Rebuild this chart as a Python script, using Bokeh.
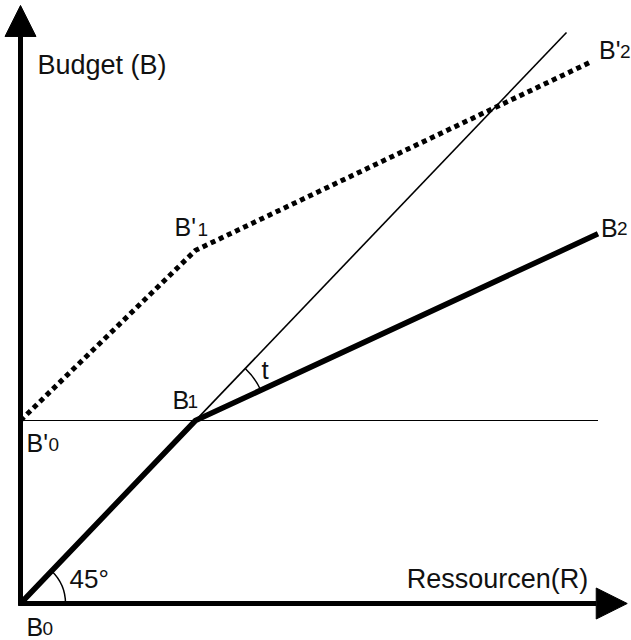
import math
from bokeh.plotting import figure
from bokeh.models import Range1d, Arrow, NormalHead, ColumnDataSource
from bokeh.core.properties import value
from bokeh.embed import file_html
from bokeh.resources import INLINE

# ---- diagram data (units: B1 = (1, 1)) ----
point_main = ["B", "B", "B", "B'", "B'", "B'"]
point_sub = ["0", "1", "2", "0", "1", "2"]
point_x = [0.0, 1.0, 3.30, 0.0, 1.0, 3.26]
point_y = [0.0, 1.0, 2.02, 1.0, 1.93, 2.96]
diag_end = 3.12          # end of the thin 45-degree line
axis_x_max = 3.467
axis_y_max = 3.268
axis_x_label = "Ressourcen(R)"
axis_y_label = "Budget (B)"
angle_label = "45°"
t_label = "t"

# ---- layout ----
SX, SY = 175.0, 183.0   # pixels per unit
OX, OY = 20, 603        # origin position in pixels
W, H = 631, 640
FONT = value("Liberation Sans")
DY = -9                 # baseline correction for text

p = figure(width=W, height=H, output_backend="svg", toolbar_location=None,
           x_axis_type=None, y_axis_type=None,
           x_range=Range1d(-OX / SX, (W - OX) / SX),
           y_range=Range1d(-(H - OY) / SY, OY / SY),
           min_border=0, outline_line_color=None)
p.grid.visible = False
p.background_fill_color = "white"

B0 = (point_x[0], point_y[0]); B1 = (point_x[1], point_y[1]); B2 = (point_x[2], point_y[2])
Bp0 = (point_x[3], point_y[3]); Bp1 = (point_x[4], point_y[4]); Bp2 = (point_x[5], point_y[5])

# horizontal thin line through B'0 / B1
p.line([Bp0[0], B2[0]], [Bp0[1], Bp0[1]], line_color="black", line_width=1.2)
# thin 45-degree line
p.line([B0[0], diag_end], [B0[1], diag_end], line_color="black", line_width=1.6)
# thick budget path
p.line([B0[0], B1[0], B2[0]], [B0[1], B1[1], B2[1]], line_color="black",
       line_width=5.5, line_join="round")
# dotted budget' path
p.line([Bp0[0], Bp1[0], Bp2[0]], [Bp0[1], Bp1[1], Bp2[1]], line_color="black",
       line_width=5, line_dash="5 4", line_cap="butt", line_join="miter")

# angle arcs
a45 = math.atan2((B1[1] - B0[1]) * SY, (B1[0] - B0[0]) * SX)
at = math.atan2((B2[1] - B1[1]) * SY, (B2[0] - B1[0]) * SX)
p.arc(x=[B0[0]], y=[B0[1]], radius=45, radius_units="screen",
      start_angle=0, end_angle=a45, line_color="black", line_width=1.5)
p.arc(x=[B1[0]], y=[B1[1]], radius=72, radius_units="screen",
      start_angle=at, end_angle=a45, line_color="black", line_width=1.5)

# axes with arrowheads
p.add_layout(Arrow(end=NormalHead(size=31, fill_color="black", line_color="black"),
                   x_start=0, y_start=-0.012, x_end=0, y_end=axis_y_max,
                   line_width=5, line_color="black"))
p.add_layout(Arrow(end=NormalHead(size=31, fill_color="black", line_color="black"),
                   x_start=-0.012, y_start=0, x_end=axis_x_max, y_end=0,
                   line_width=5, line_color="black"))

# point labels
main_dx = [6, -23, 3, 6, -21, 8]
main_dy = [d + DY for d in [32, -12, 3, 31, -14, -3]]
sub_dx = [22, -8, 19, 28, 2, 29]
sub_dy = [d + DY for d in [34, -10, 4, 33, -12, -1]]
src = ColumnDataSource(dict(x=point_x, y=point_y, main=point_main, sub=point_sub,
                            mdx=main_dx, mdy=main_dy, sdx=sub_dx, sdy=sub_dy))
p.text(x="x", y="y", text="main", x_offset="mdx", y_offset="mdy", source=src,
       text_font=FONT, text_font_size="25px", text_color="#111111",
       text_baseline="alphabetic", text_align="left")
p.text(x="x", y="y", text="sub", x_offset="sdx", y_offset="sdy", source=src,
       text_font=FONT, text_font_size="19px", text_color="#111111",
       text_baseline="alphabetic", text_align="left")

# axis labels and angle labels
p.text(x=[0], y=[axis_y_max], text=[axis_y_label], x_offset=17, y_offset=69 + DY,
       text_font=FONT, text_font_size="27px", text_color="#111111",
       text_baseline="alphabetic", text_align="left")
p.text(x=[axis_x_max], y=[0], text=[axis_x_label], x_offset=-39, y_offset=-16 + DY,
       text_font=FONT, text_font_size="27px", text_color="#111111",
       text_baseline="alphabetic", text_align="right")
p.text(x=[B0[0]], y=[B0[1]], text=[angle_label], x_offset=49, y_offset=-16 + DY,
       text_font=FONT, text_font_size="26px", text_color="#111111",
       text_baseline="alphabetic", text_align="left")
p.text(x=[B1[0]], y=[B1[1]], text=[t_label], x_offset=66, y_offset=-42 + DY,
       text_font=FONT, text_font_size="26px", text_color="#111111",
       text_baseline="alphabetic", text_align="left")

open("out.html", "w").write(file_html(p, INLINE))
